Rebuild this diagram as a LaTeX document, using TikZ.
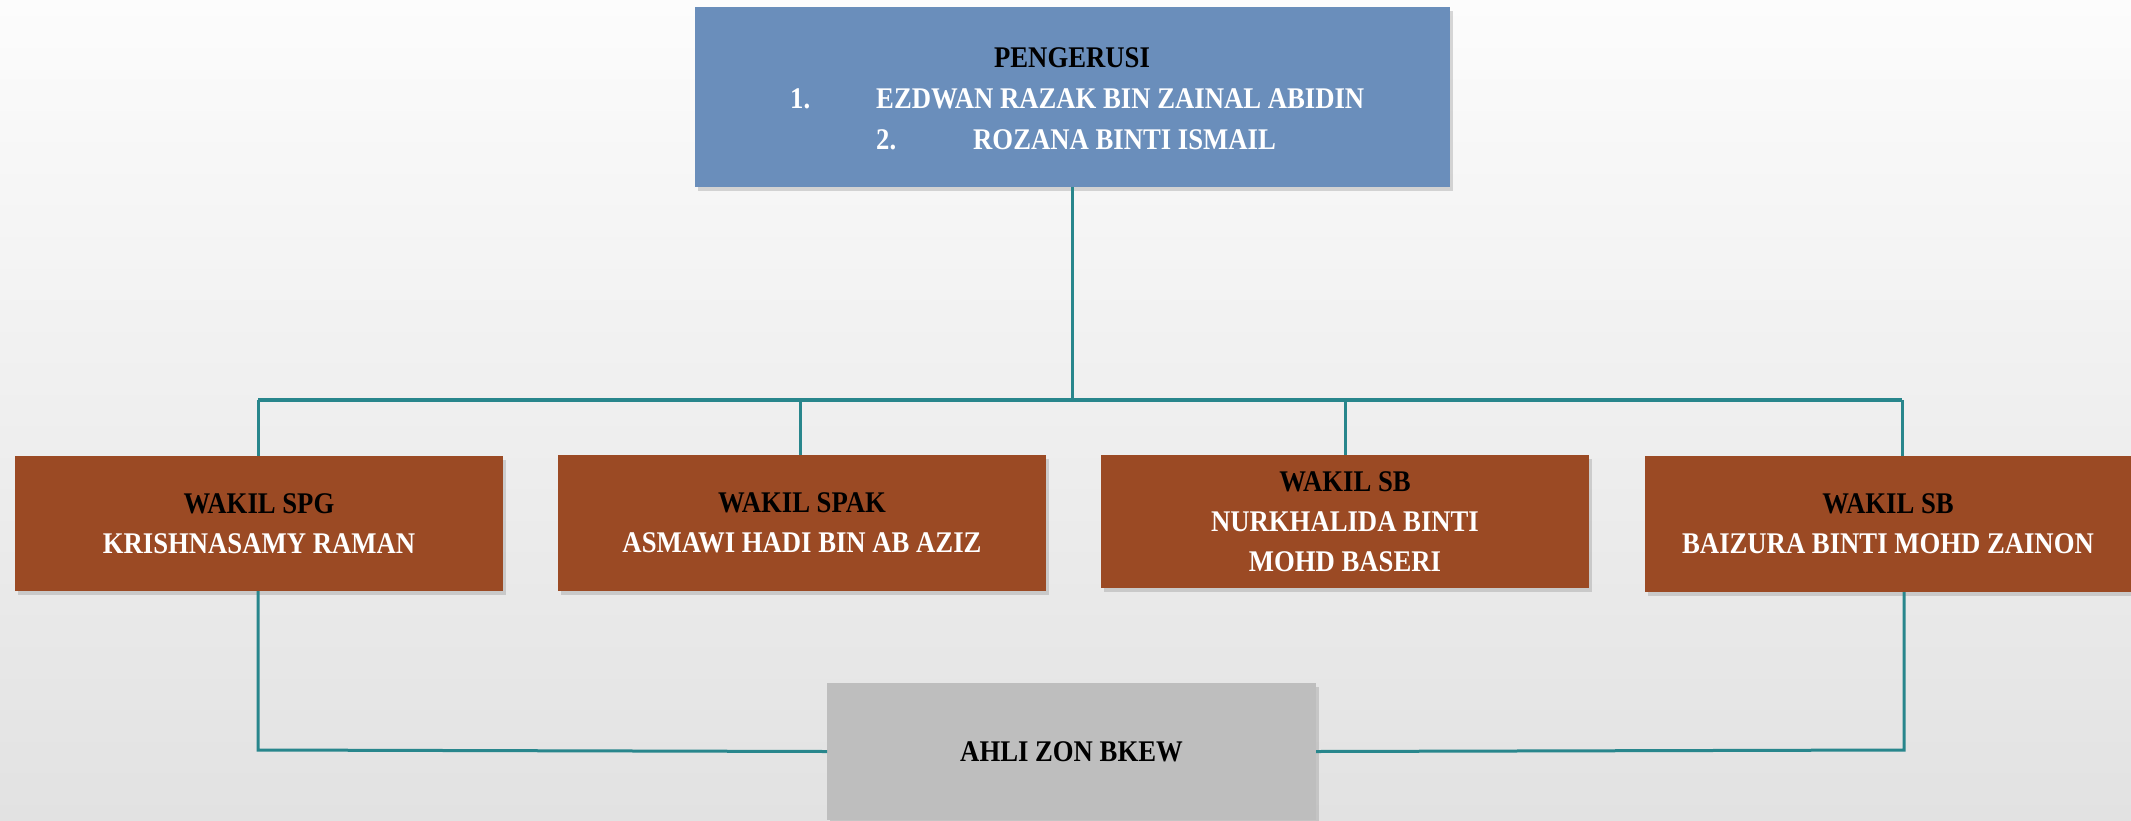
\documentclass[tikz,border=0pt]{standalone}
\usepackage{fontspec}
\setmainfont{Liberation Serif}[FakeStretch=0.89]
\usetikzlibrary{shadows}
\definecolor{bgtop}{RGB}{252,252,252}
\definecolor{bgbot}{RGB}{226,226,226}
\definecolor{topblue}{RGB}{106,142,187}
\definecolor{brownbox}{RGB}{155,74,36}
\definecolor{graybox}{RGB}{190,190,190}
\definecolor{teal}{RGB}{40,134,140}
\tikzset{
  orgbox/.style={draw=none, inner sep=0pt, outer sep=0pt, align=center,
    font=\fontsize{30}{40}\selectfont\bfseries,
    drop shadow={shadow xshift=3pt, shadow yshift=-4pt, opacity=0.3}},
  bluebox/.style={orgbox, fill=topblue},
  wakilbox/.style={orgbox, fill=brownbox, minimum width=488pt},
  greybox/.style={orgbox, fill=graybox},
  conn/.style={draw=teal, line width=3pt},
  busline/.style={draw=teal, line width=4.5pt},
  toptext/.style={inner sep=0pt, anchor=base west, font=\fontsize{30}{36}\selectfont\bfseries},
}
\begin{document}
\begin{tikzpicture}[x=1pt,y=-1pt]
\shade[top color=bgtop, bottom color=bgbot] (0,0) rectangle (2131,820);
\useasboundingbox (0,0) rectangle (2131,820);

% top box
\node[bluebox, minimum width=755pt, minimum height=180pt] (top) at (1072.5,97) {};
\node[inner sep=0pt, anchor=base, font=\fontsize{30}{36}\selectfont\bfseries, text=black] (tt) at (1072,67) {PENGERUSI};
\node[toptext, text=white] (n1) at (790,108) {1.};
\node[toptext, text=white] (m1) at (876,108) {EZDWAN RAZAK BIN ZAINAL ABIDIN};
\node[toptext, text=white] (n2) at (876,149) {2.};
\node[toptext, text=white] (m2) at (973,149) {ROZANA BINTI ISMAIL};

% wakil boxes
\node[wakilbox, minimum height=135pt] (w1) at (259,523.5) {\textcolor{black}{WAKIL SPG}\\\textcolor{white}{KRISHNASAMY RAMAN}};
\node[wakilbox, minimum height=136pt] (w2) at (802,523) {\textcolor{black}{WAKIL SPAK}\\\textcolor{white}{ASMAWI HADI BIN AB AZIZ}};
\node[wakilbox, minimum height=133pt] (w3) at (1345,521.5) {\textcolor{black}{WAKIL SB}\\\textcolor{white}{NURKHALIDA BINTI}\\\textcolor{white}{MOHD BASERI}};
\node[wakilbox, minimum width=486pt, minimum height=136pt] (w4) at (1888,524) {\textcolor{black}{WAKIL SB}\\\textcolor{white}{BAIZURA BINTI MOHD ZAINON}};

% bottom box
\node[greybox, minimum width=489pt, minimum height=137pt, text=black] (ahli) at (1071.5,751.5) {AHLI ZON BKEW};

% connectors
\coordinate (busL) at (258,400);
\coordinate (busR) at (1902,400);
\coordinate (botL) at (258,750);
\coordinate (botR) at (1904,750);
\draw[busline] (busL) -- (busR);
\draw[conn] (top.south) -- (top.south |- busL);
\draw[conn] (busL) -- (busL |- w1.north);
\draw[conn] (w2.north -| 800,0) -- (800,400);
\draw[conn] (w3.north) -- (w3.north |- busL);
\draw[conn] (busR) -- (busR |- w4.north);
\draw[conn] (botL |- w1.south) -- (botL) -- (ahli.west);
\draw[conn] (botR |- w4.south) -- (botR) -- (ahli.east);
\end{tikzpicture}
\end{document}
